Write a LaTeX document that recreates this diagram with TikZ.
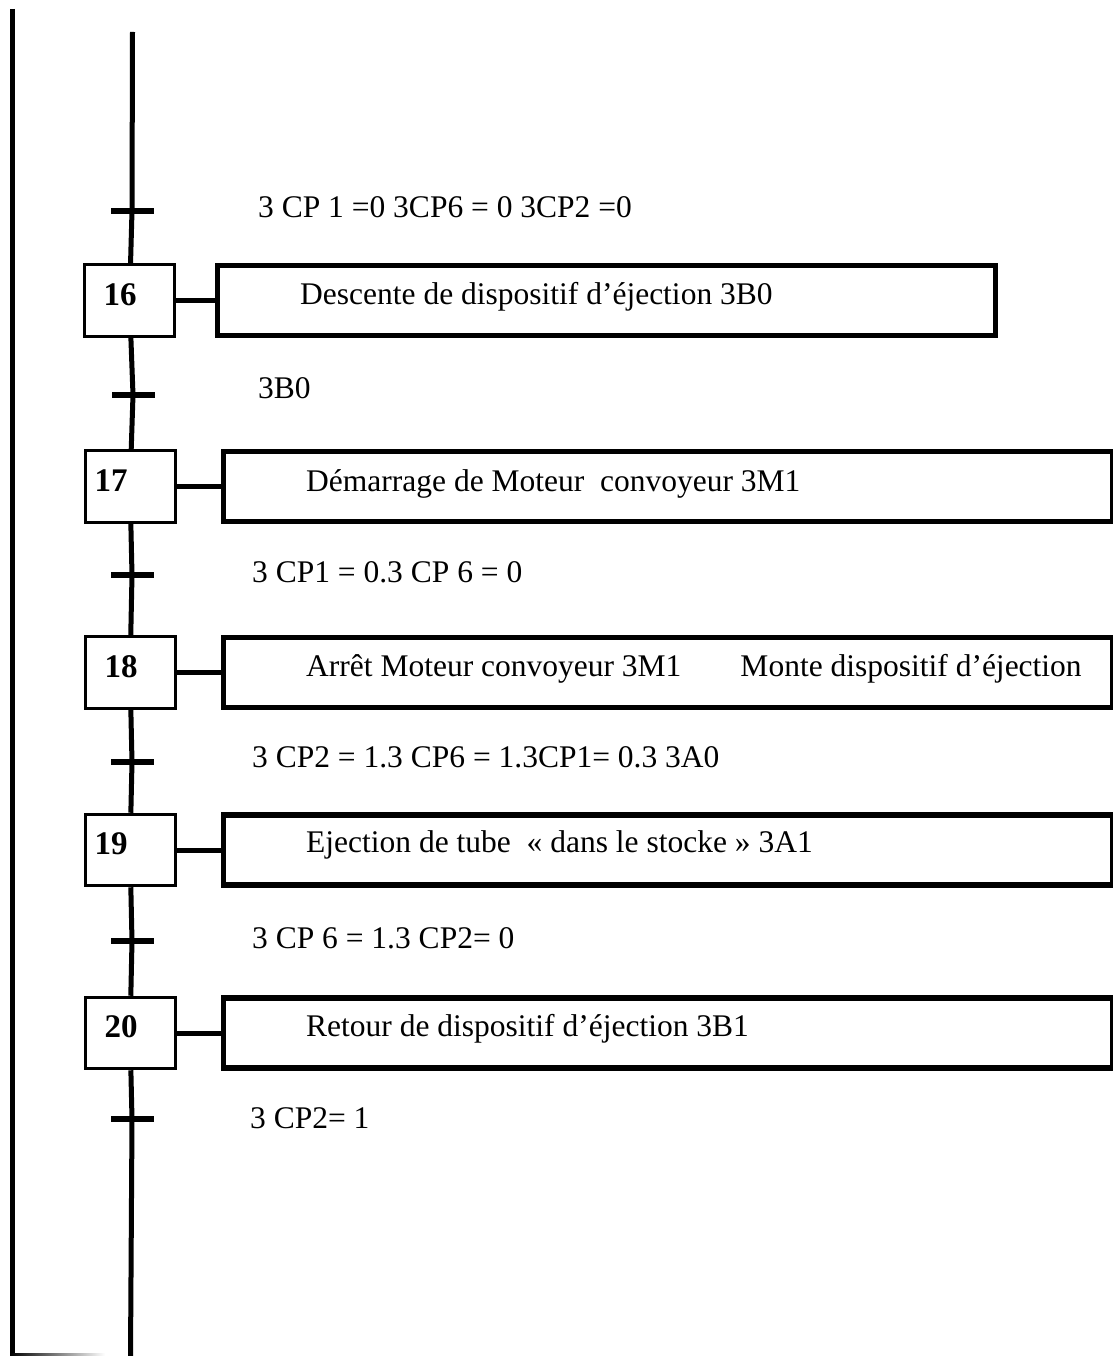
\documentclass[tikz,border=0pt]{standalone}
\usepackage{fontspec}
\setmainfont{Liberation Serif}
\usetikzlibrary{positioning}

\begin{document}
\begin{tikzpicture}[x=1pt, y=-1pt,
  stepbox/.style={draw, line width=3pt, minimum width=90pt,
    minimum height=71.5pt, inner sep=0pt},
  actbox/.style={draw, line width=5.5pt, minimum height=70pt,
    anchor=west, inner sep=0pt},
  trans/.style={fill=black, minimum width=43pt, minimum height=5.5pt,
    inner sep=0pt},
  num/.style={font=\fontsize{33}{38}\selectfont\bfseries, yshift=6pt},
  cond/.style={font=\fontsize{31.5}{36}\selectfont, anchor=base west,
    inner sep=0pt},
  acttxt/.style={font=\fontsize{31.5}{36}\selectfont, anchor=base west,
    inner sep=0pt},
  link/.style={line width=5pt}]
\useasboundingbox (0,0) rectangle (1112,1356);

% frame on the left
\draw[line width=5pt] (12.5,9) -- (12.5,1356);
\shade[left color=black, right color=white] (10,1353) rectangle (105,1356);

% steps
\node[stepbox, label={[num, xshift=-9.5pt]center:16}] (s16) at (129.5,300.5) {};
\node[stepbox, label={[num, xshift=-19pt]center:17}] (s17) at (130,486.5) {};
\node[stepbox, label={[num, xshift=-9pt]center:18}] (s18) at (130,672.5) {};
\node[stepbox, label={[num, xshift=-19pt]center:19}] (s19) at (130,850) {};
\node[stepbox, label={[num, xshift=-9pt]center:20}] (s20) at (130,1033) {};

% actions
\node[actbox, minimum width=778pt] (a16) at (214.5,300.5) {};
\node[actbox, minimum width=889pt] (a17) at (220.5,486.5) {};
\node[actbox, minimum width=889pt] (a18) at (220.5,672.5) {};
\node[actbox, minimum width=889pt] (a19) at (220.5,850) {};
\node[actbox, minimum width=889pt] (a20) at (220.5,1033) {};

\node[acttxt] (d16) at ([xshift=85.5pt, yshift=-3.5pt]a16.west)
  {Descente de dispositif d’éjection 3B0};
\node[acttxt] (d17) at ([xshift=85.5pt, yshift=-4.5pt]a17.west)
  {Démarrage de Moteur~ convoyeur 3M1};
\node[acttxt] (d18) at ([xshift=85.5pt, yshift=-3.5pt]a18.west)
  {Arrêt Moteur convoyeur 3M1\hspace{59pt}Monte dispositif d’éjection};
\node[acttxt] (d19) at ([xshift=85.5pt, yshift=-2pt]a19.west)
  {Ejection de tube~ « dans le stocke » 3A1};
\node[acttxt] (d20) at ([xshift=85.5pt, yshift=-3pt]a20.west)
  {Retour de dispositif d’éjection 3B1};

% transitions
\coordinate (top) at (132.5,32);
\coordinate (bot) at (130.5,1356);
\node[trans] (t15) at (132,211) {};
\node[trans] (t16) at (133,395) {};
\node[trans] (t17) at (132,575) {};
\node[trans] (t18) at (132,762) {};
\node[trans] (t19) at (132,941) {};
\node[trans] (t20) at (132,1119) {};

\node[cond] (c15) at (258,218) {3 CP 1 =0 3CP6 = 0 3CP2 =0};
\node[cond] (c16) at (258,398) {3B0};
\node[cond] (c17) at (252,582) {3 CP1 = 0.3 CP 6 = 0};
\node[cond] (c18) at (252,767) {3 CP2 = 1.3 CP6 = 1.3CP1= 0.3 3A0};
\node[cond] (c19) at (252,948) {3 CP 6 = 1.3 CP2= 0};
\node[cond] (c20) at (250,1128) {3 CP2= 1};

% links
\draw[link] (top) -- (t15) -- (s16) -- (t16) -- (s17) -- (t17) -- (s18)
  -- (t18) -- (s19) -- (t19) -- (s20) -- (t20) -- (bot);
\draw[link] (s16) -- (a16);
\draw[link] (s17) -- (a17);
\draw[link] (s18) -- (a18);
\draw[link] (s19) -- (a19);
\draw[link] (s20) -- (a20);
\end{tikzpicture}
\end{document}
